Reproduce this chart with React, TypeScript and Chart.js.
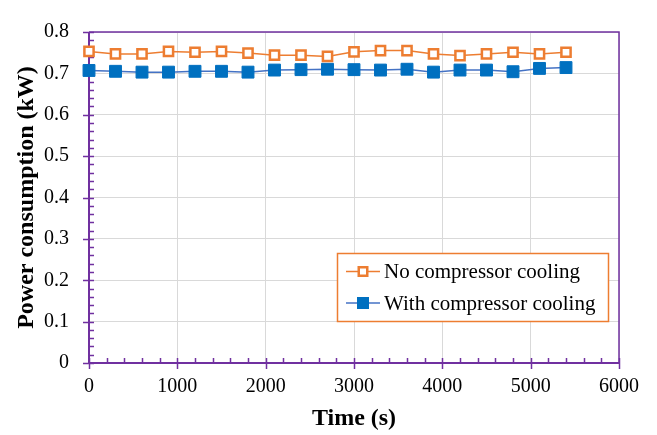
import React, { useEffect, useRef } from "react";
import { Chart, registerables } from "chart.js";

Chart.register(...registerables);

const timeSeconds = [0, 300, 600, 900, 1200, 1500, 1800, 2100, 2400, 2700, 3000, 3300, 3600, 3900, 4200, 4500, 4800, 5100, 5400];
const noCompressorCooling = [0.753, 0.747, 0.747, 0.753, 0.751, 0.753, 0.749, 0.744, 0.744, 0.741, 0.752, 0.755, 0.755, 0.747, 0.743, 0.747, 0.751, 0.747, 0.751];
const withCompressorCooling = [0.707, 0.705, 0.703, 0.703, 0.705, 0.705, 0.703, 0.708, 0.709, 0.710, 0.709, 0.708, 0.710, 0.703, 0.708, 0.708, 0.704, 0.712, 0.714];
const seriesNames = ["No compressor cooling", "With compressor cooling"];
const xTitle = "Time (s)";
const yTitle = "Power consumption (kW)";

const ORANGE = "#ED7D31";
const BLUE = "#0070C0";
const BLUE_LINE = "#4472C4";
const PURPLE = "#7030A0";
const GRID = "#d9d9d9";
const FONT = "'Liberation Serif', 'Times New Roman', serif";

const framePlugin = {
  id: "frame",
  beforeDatasetsDraw(chart: any) {
    const { ctx, chartArea } = chart;
    const { left, right, top, bottom } = chartArea;
    const xs = chart.scales.x;
    const ys = chart.scales.y;
    ctx.save();
    ctx.strokeStyle = PURPLE;
    ctx.lineWidth = 1.5;
    ctx.beginPath();
    ctx.moveTo(left, top);
    ctx.lineTo(right, top);
    ctx.lineTo(right, bottom);
    ctx.stroke();
    ctx.lineWidth = 2;
    ctx.beginPath();
    ctx.moveTo(left, top);
    ctx.lineTo(left, bottom);
    ctx.lineTo(right, bottom);
    ctx.stroke();
    ctx.lineWidth = 1.5;
    ctx.beginPath();
    for (let i = 0; i <= 40; i++) {
      const v = i * 0.02;
      const y = Math.round(ys.getPixelForValue(v)) + 0.5;
      if (i % 5 === 0) {
        ctx.moveTo(left - 6, y);
        ctx.lineTo(left + 5, y);
      } else {
        ctx.moveTo(left, y);
        ctx.lineTo(left + 5, y);
      }
    }
    for (let i = 0; i <= 30; i++) {
      const v = i * 200;
      const x = Math.round(xs.getPixelForValue(v)) + 0.5;
      if (i % 5 === 0) {
        ctx.moveTo(x, bottom - 5);
        ctx.lineTo(x, bottom + 6);
      } else {
        ctx.moveTo(x, bottom - 5);
        ctx.lineTo(x, bottom);
      }
    }
    ctx.stroke();
    ctx.restore();
  },
  afterDraw(chart: any) {
    const { ctx } = chart;
    ctx.save();
    const bx = 337.5, by = 253.5, bw = 271, bh = 68;
    ctx.fillStyle = "#ffffff";
    ctx.fillRect(bx, by, bw, bh);
    ctx.strokeStyle = ORANGE;
    ctx.lineWidth = 1.5;
    ctx.strokeRect(bx, by, bw, bh);
    const rows = [271.5, 303];
    chart.data.datasets.forEach((ds: any, i: number) => {
      const y = rows[i];
      ctx.strokeStyle = ds.borderColor;
      ctx.lineWidth = ds.borderWidth;
      ctx.beginPath();
      ctx.moveTo(346, y);
      ctx.lineTo(380, y);
      ctx.stroke();
      const s = i === 0 ? 8.5 : 11;
      ctx.fillStyle = ds.pointBackgroundColor;
      ctx.fillRect(363 - s / 2, y - s / 2, s, s);
      ctx.strokeStyle = ds.pointBorderColor;
      ctx.lineWidth = ds.pointBorderWidth;
      ctx.strokeRect(363 - s / 2, y - s / 2, s, s);
      ctx.fillStyle = "#000";
      ctx.font = `21px ${FONT}`;
      ctx.textBaseline = "middle";
      ctx.textAlign = "left";
      ctx.fillText(ds.label, 384, y + 1);
    });
    ctx.restore();
  },
};

export default function App() {
  const ref = useRef<HTMLCanvasElement>(null);
  useEffect(() => {
    document.body.style.margin = "0";
    const canvas = ref.current!;
    const chart = new Chart(canvas, {
      type: "line",
      data: {
        datasets: [
          {
            label: seriesNames[0],
            data: timeSeconds.map((t, i) => ({ x: t, y: noCompressorCooling[i] })),
            borderColor: ORANGE,
            borderWidth: 1.5,
            pointStyle: "rect",
            pointRadius: 6.5,
            pointBackgroundColor: "#ffffff",
            pointBorderColor: ORANGE,
            pointBorderWidth: 2.5,
            clip: false,
          } as any,
          {
            label: seriesNames[1],
            data: timeSeconds.map((t, i) => ({ x: t, y: withCompressorCooling[i] })),
            borderColor: BLUE_LINE,
            borderWidth: 1.5,
            pointStyle: "rect",
            pointRadius: 8.4,
            pointBackgroundColor: BLUE,
            pointBorderColor: BLUE,
            pointBorderWidth: 1,
            clip: false,
          } as any,
        ],
      },
      options: {
        animation: false,
        responsive: false,
        devicePixelRatio: 1,
        layout: { padding: { left: 0, right: 38, top: 18, bottom: 0 } },
        plugins: { legend: { display: false }, tooltip: { enabled: false } },
        scales: {
          x: {
            type: "linear",
            min: 0,
            max: 6000,
            afterFit(scale: any) {
              scale.height = 72;
            },
            ticks: {
              stepSize: 1000,
              padding: 12,
              color: "#000",
              font: { family: FONT, size: 20 },
              maxRotation: 0,
              callback: (v: any) => String(Math.round(Number(v))),
            },
            grid: { color: GRID, lineWidth: 1, drawTicks: false },
            border: { display: false },
            title: {
              display: true,
              text: xTitle,
              color: "#000",
              font: { family: FONT, size: 24, weight: "bold" },
              padding: { top: 0, bottom: 2 },
            },
          },
          y: {
            type: "linear",
            min: 0,
            max: 0.8,
            afterFit(scale: any) {
              scale.width = 89;
            },
            ticks: {
              stepSize: 0.1,
              padding: 20,
              color: "#000",
              font: { family: FONT, size: 20 },
              callback: (v: any) => (Math.round(Number(v) * 10) / 10).toString(),
            },
            grid: { color: GRID, lineWidth: 1, drawTicks: false },
            border: { display: false },
            title: {
              display: true,
              text: yTitle,
              color: "#000",
              font: { family: FONT, size: 24, weight: "bold" },
              padding: { top: 12, bottom: 0 },
            },
          },
        },
      },
      plugins: [framePlugin],
    });
    return () => chart.destroy();
  }, []);
  return <canvas ref={ref} width={657} height={435} style={{ display: "block" }} />;
}
